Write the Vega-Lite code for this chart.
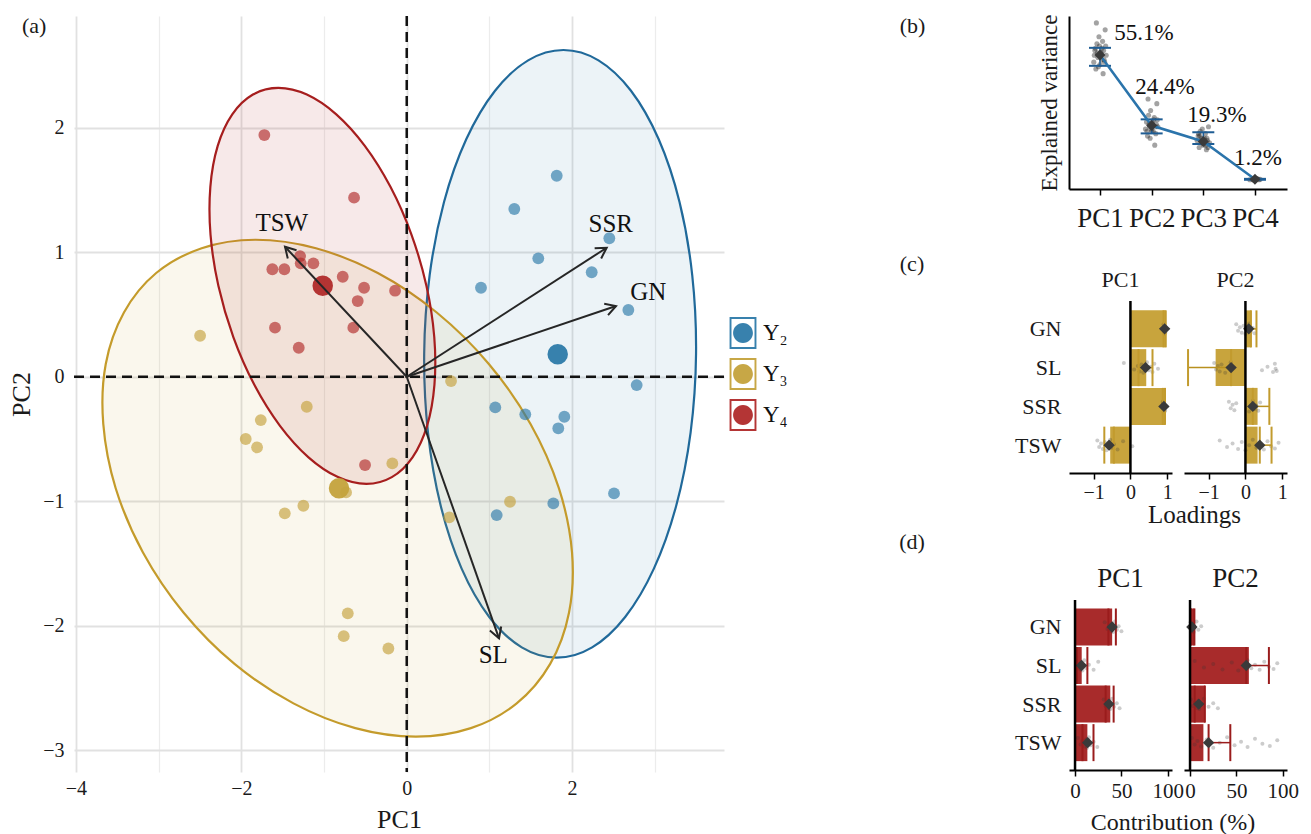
{
"$schema":"https://vega.github.io/schema/vega-lite/v6.json",
"padding":{"left":8,"top":14,"right":0,"bottom":0},
"background":"white",
"config":{"font":"Liberation Serif","view":{"stroke":null},
"axis":{"labelFont":"Liberation Serif","titleFont":"Liberation Serif","labelColor":"#1a1a1a","titleColor":"#1a1a1a","titleFontWeight":"normal","labelFlush":false,"labelOverlap":false,"grid":false,"titleLimit":400},
"legend":{"labelFont":"Liberation Serif","titleFont":"Liberation Serif"},
"title":{"font":"Liberation Serif","fontWeight":"normal","color":"#1a1a1a"},
"text":{"font":"Liberation Serif"}},
"datasets":{
"ell":[
{"g":"Y2","t":0,"x":1.895,"y":2.624},{"g":"Y2","t":1,"x":2.319,"y":2.541},{"g":"Y2","t":2,"x":2.712,"y":2.297},{"g":"Y2","t":3,"x":3.046,"y":1.909},{"g":"Y2","t":4,"x":3.299,"y":1.404},{"g":"Y2","t":5,"x":3.453,"y":0.815},{"g":"Y2","t":6,"x":3.499,"y":0.184},{"g":"Y2","t":7,"x":3.433,"y":-0.448},{"g":"Y2","t":8,"x":3.259,"y":-1.036},{"g":"Y2","t":9,"x":2.989,"y":-1.541},{"g":"Y2","t":10,"x":2.642,"y":-1.929},{"g":"Y2","t":11,"x":2.242,"y":-2.173},{"g":"Y2","t":12,"x":1.815,"y":-2.256},{"g":"Y2","t":13,"x":1.391,"y":-2.173},{"g":"Y2","t":14,"x":0.998,"y":-1.929},{"g":"Y2","t":15,"x":0.664,"y":-1.541},{"g":"Y2","t":16,"x":0.411,"y":-1.036},{"g":"Y2","t":17,"x":0.257,"y":-0.448},{"g":"Y2","t":18,"x":0.211,"y":0.184},{"g":"Y2","t":19,"x":0.277,"y":0.815},{"g":"Y2","t":20,"x":0.451,"y":1.404},{"g":"Y2","t":21,"x":0.721,"y":1.909},{"g":"Y2","t":22,"x":1.068,"y":2.297},{"g":"Y2","t":23,"x":1.468,"y":2.541},
{"g":"Y3","t":0,"x":-1.83,"y":1.1},{"g":"Y3","t":1,"x":-1.098,"y":1.032},{"g":"Y3","t":2,"x":-0.35,"y":0.833},{"g":"Y3","t":3,"x":0.363,"y":0.516},{"g":"Y3","t":4,"x":0.993,"y":0.103},{"g":"Y3","t":5,"x":1.497,"y":-0.379},{"g":"Y3","t":6,"x":1.84,"y":-0.895},{"g":"Y3","t":7,"x":1.999,"y":-1.411},{"g":"Y3","t":8,"x":1.963,"y":-1.893},{"g":"Y3","t":9,"x":1.735,"y":-2.306},{"g":"Y3","t":10,"x":1.33,"y":-2.623},{"g":"Y3","t":11,"x":0.776,"y":-2.822},{"g":"Y3","t":12,"x":0.11,"y":-2.89},{"g":"Y3","t":13,"x":-0.622,"y":-2.822},{"g":"Y3","t":14,"x":-1.37,"y":-2.623},{"g":"Y3","t":15,"x":-2.083,"y":-2.306},{"g":"Y3","t":16,"x":-2.7,"y":-1.893},{"g":"Y3","t":17,"x":-3.19,"y":-1.411},{"g":"Y3","t":18,"x":-3.52,"y":-0.895},{"g":"Y3","t":19,"x":-3.67,"y":-0.379},{"g":"Y3","t":20,"x":-3.64,"y":0.103},{"g":"Y3","t":21,"x":-3.42,"y":0.516},{"g":"Y3","t":22,"x":-3.03,"y":0.833},{"g":"Y3","t":23,"x":-2.48,"y":1.032},
{"g":"Y4","t":0,"x":-1.552,"y":2.32},{"g":"Y4","t":1,"x":-1.208,"y":2.266},{"g":"Y4","t":2,"x":-0.852,"y":2.107},{"g":"Y4","t":3,"x":-0.507,"y":1.854},{"g":"Y4","t":4,"x":-0.197,"y":1.525},{"g":"Y4","t":5,"x":0.057,"y":1.142},{"g":"Y4","t":6,"x":0.238,"y":0.73},{"g":"Y4","t":7,"x":0.333,"y":0.319},{"g":"Y4","t":8,"x":0.335,"y":-0.065},{"g":"Y4","t":9,"x":0.246,"y":-0.394},{"g":"Y4","t":10,"x":0.07,"y":-0.647},{"g":"Y4","t":11,"x":-0.18,"y":-0.806},{"g":"Y4","t":12,"x":-0.488,"y":-0.86},{"g":"Y4","t":13,"x":-0.832,"y":-0.806},{"g":"Y4","t":14,"x":-1.188,"y":-0.647},{"g":"Y4","t":15,"x":-1.533,"y":-0.394},{"g":"Y4","t":16,"x":-1.843,"y":-0.065},{"g":"Y4","t":17,"x":-2.097,"y":0.319},{"g":"Y4","t":18,"x":-2.278,"y":0.73},{"g":"Y4","t":19,"x":-2.373,"y":1.142},{"g":"Y4","t":20,"x":-2.375,"y":1.525},{"g":"Y4","t":21,"x":-2.286,"y":1.854},{"g":"Y4","t":22,"x":-2.11,"y":2.107},{"g":"Y4","t":23,"x":-1.86,"y":2.266}
],
"pts":[
{"g":"Y2","m":0,"x":1.814,"y":1.614},{"g":"Y2","m":0,"x":1.301,"y":1.347},{"g":"Y2","m":0,"x":2.45,"y":1.112},{"g":"Y2","m":0,"x":1.591,"y":0.951},{"g":"Y2","m":0,"x":2.237,"y":0.839},{"g":"Y2","m":0,"x":0.898,"y":0.715},{"g":"Y2","m":0,"x":2.68,"y":0.536},{"g":"Y2","m":0,"x":2.781,"y":-0.067},{"g":"Y2","m":0,"x":1.071,"y":-0.246},{"g":"Y2","m":0,"x":1.434,"y":-0.302},{"g":"Y2","m":0,"x":1.906,"y":-0.321},{"g":"Y2","m":0,"x":1.833,"y":-0.414},{"g":"Y2","m":0,"x":2.507,"y":-0.937},{"g":"Y2","m":0,"x":1.773,"y":-1.017},{"g":"Y2","m":0,"x":1.088,"y":-1.111},{"g":"Y2","m":1,"x":1.826,"y":0.18},
{"g":"Y3","m":0,"x":0.536,"y":-0.035},{"g":"Y3","m":0,"x":1.249,"y":-1.004},{"g":"Y3","m":0,"x":0.515,"y":-1.129},{"g":"Y3","m":0,"x":-2.499,"y":0.329},{"g":"Y3","m":0,"x":-1.209,"y":-0.241},{"g":"Y3","m":0,"x":-1.765,"y":-0.348},{"g":"Y3","m":0,"x":-1.947,"y":-0.5},{"g":"Y3","m":0,"x":-1.81,"y":-0.567},{"g":"Y3","m":0,"x":-0.174,"y":-0.696},{"g":"Y3","m":0,"x":-0.734,"y":-0.929},{"g":"Y3","m":0,"x":-1.25,"y":-1.036},{"g":"Y3","m":0,"x":-1.475,"y":-1.097},{"g":"Y3","m":0,"x":-0.713,"y":-1.9},{"g":"Y3","m":0,"x":-0.762,"y":-2.083},{"g":"Y3","m":0,"x":-0.222,"y":-2.182},{"g":"Y3","m":1,"x":-0.819,"y":-0.896},
{"g":"Y4","m":0,"x":-1.722,"y":1.941},{"g":"Y4","m":0,"x":-0.637,"y":1.438},{"g":"Y4","m":0,"x":-1.29,"y":0.969},{"g":"Y4","m":0,"x":-1.129,"y":0.911},{"g":"Y4","m":0,"x":-1.282,"y":0.911},{"g":"Y4","m":0,"x":-1.625,"y":0.863},{"g":"Y4","m":0,"x":-1.48,"y":0.863},{"g":"Y4","m":0,"x":-0.774,"y":0.803},{"g":"Y4","m":0,"x":-0.516,"y":0.715},{"g":"Y4","m":0,"x":-0.141,"y":0.691},{"g":"Y4","m":0,"x":-0.593,"y":0.608},{"g":"Y4","m":0,"x":-1.593,"y":0.394},{"g":"Y4","m":0,"x":-0.646,"y":0.394},{"g":"Y4","m":0,"x":-1.306,"y":0.233},{"g":"Y4","m":0,"x":-0.504,"y":-0.709},{"g":"Y4","m":1,"x":-1.016,"y":0.731}
],
"arr":[
{"v":"TSW","x":-1.472,"y":1.044,"lx":-1.511,"ly":1.237},
{"v":"SSR","x":2.418,"y":1.036,"lx":2.467,"ly":1.227},
{"v":"GN","x":2.531,"y":0.568,"lx":2.921,"ly":0.683},
{"v":"SL","x":1.116,"y":-2.101,"lx":1.047,"ly":-2.235}
],
"bsum":[
{"x":1,"m":55.1,"lo":50.4,"hi":58.2,"lab":"55.1%","lx":1.85,"ly":64.6},
{"x":2,"m":24.5,"lo":21.1,"hi":27.2,"lab":"24.4%","lx":2.258,"ly":41.2},
{"x":3,"m":17.6,"lo":16.5,"hi":21.6,"lab":"19.3%","lx":3.265,"ly":29.1},
{"x":4,"m":1.2,"lo":1.0,"hi":1.4,"lab":"1.2%","lx":4.059,"ly":10.4}
],
"bjit":[
{"x":0.88,"v":52},{"x":0.9,"v":57},{"x":0.92,"v":49},{"x":0.94,"v":60},{"x":0.96,"v":54},{"x":0.98,"v":63},{"x":1.0,"v":51},{"x":1.02,"v":56},{"x":1.04,"v":58},{"x":1.06,"v":47},{"x":1.08,"v":53},{"x":1.1,"v":66},{"x":1.12,"v":55},{"x":0.93,"v":69},{"x":1.05,"v":61},{"x":0.97,"v":50},{"x":1.01,"v":55},{"x":0.91,"v":58},{"x":1.09,"v":52},{"x":0.99,"v":59},{"x":0.95,"v":56},{"x":1.03,"v":53},{"x":0.89,"v":55},{"x":1.07,"v":57},{"x":1.11,"v":59},
{"x":1.88,"v":23},{"x":1.9,"v":26},{"x":1.92,"v":20},{"x":1.94,"v":29},{"x":1.96,"v":24},{"x":1.98,"v":31},{"x":2.0,"v":22},{"x":2.02,"v":25},{"x":2.04,"v":27},{"x":2.06,"v":16},{"x":2.08,"v":21},{"x":2.1,"v":34},{"x":2.12,"v":24},{"x":1.93,"v":36},{"x":2.05,"v":28},{"x":1.97,"v":19},{"x":2.01,"v":26},{"x":1.91,"v":22},{"x":2.09,"v":25},{"x":1.99,"v":23},{"x":1.95,"v":25},{"x":2.03,"v":22},{"x":2.07,"v":24},{"x":2.11,"v":27},
{"x":2.88,"v":18},{"x":2.9,"v":20},{"x":2.92,"v":15},{"x":2.94,"v":22},{"x":2.96,"v":17},{"x":2.98,"v":23},{"x":3.0,"v":16},{"x":3.02,"v":19},{"x":3.04,"v":21},{"x":3.06,"v":14},{"x":3.08,"v":18},{"x":3.1,"v":24},{"x":3.12,"v":17},{"x":2.93,"v":20},{"x":3.05,"v":16},{"x":2.97,"v":19},{"x":3.01,"v":18},{"x":2.91,"v":21},{"x":3.09,"v":15},{"x":2.99,"v":17},{"x":2.95,"v":18},{"x":3.03,"v":17},{"x":3.07,"v":19},
{"x":3.9,"v":1.0},{"x":3.95,"v":1.3},{"x":4.0,"v":1.1},{"x":4.05,"v":1.4},{"x":4.1,"v":1.2},{"x":3.97,"v":0.9},{"x":4.03,"v":1.5},{"x":4.08,"v":1.0}
],
"csum":[
{"p":1,"k":1,"load":0.96,"mean":0.93,"lo":0.9,"hi":0.96},
{"p":1,"k":2,"load":0.43,"mean":0.41,"lo":0.22,"hi":0.6},
{"p":1,"k":3,"load":0.94,"mean":0.91,"lo":0.88,"hi":0.94},
{"p":1,"k":4,"load":-0.55,"mean":-0.58,"lo":-0.71,"hi":-0.45},
{"p":2,"k":1,"load":0.16,"mean":0.09,"lo":0.15,"hi":0.3},
{"p":2,"k":2,"load":-0.81,"mean":-0.39,"lo":-1.56,"hi":-0.39},
{"p":2,"k":3,"load":0.33,"mean":0.2,"lo":0.2,"hi":0.65},
{"p":2,"k":4,"load":0.33,"mean":0.39,"lo":0.39,"hi":0.71}
],
"cjit":[
{"p":1,"k":0.88,"v":0.9},{"p":1,"k":1.05,"v":0.92},{"p":1,"k":0.96,"v":0.94},{"p":1,"k":1.1,"v":0.95},{"p":1,"k":0.92,"v":0.91},{"p":1,"k":1.13,"v":0.93},
{"p":1,"k":1.88,"v":-0.18},{"p":1,"k":2.05,"v":0.1},{"p":1,"k":1.96,"v":0.2},{"p":1,"k":2.1,"v":0.25},{"p":1,"k":1.92,"v":0.3},{"p":1,"k":2.13,"v":0.35},{"p":1,"k":2.0,"v":0.4},{"p":1,"k":1.86,"v":0.45},{"p":1,"k":2.07,"v":0.5},{"p":1,"k":1.98,"v":0.55},{"p":1,"k":2.11,"v":0.6},{"p":1,"k":1.9,"v":0.65},{"p":1,"k":2.03,"v":0.75},
{"p":1,"k":2.88,"v":0.88},{"p":1,"k":3.05,"v":0.9},{"p":1,"k":2.96,"v":0.92},{"p":1,"k":3.1,"v":0.94},{"p":1,"k":2.92,"v":0.89},{"p":1,"k":3.13,"v":0.93},
{"p":1,"k":3.88,"v":-0.9},{"p":1,"k":4.05,"v":-0.85},{"p":1,"k":3.96,"v":-0.8},{"p":1,"k":4.1,"v":-0.75},{"p":1,"k":3.92,"v":-0.7},{"p":1,"k":4.13,"v":-0.65},{"p":1,"k":4.0,"v":-0.6},{"p":1,"k":3.86,"v":-0.55},{"p":1,"k":4.07,"v":-0.5},{"p":1,"k":3.98,"v":-0.45},{"p":1,"k":4.11,"v":-0.35},{"p":1,"k":3.9,"v":-0.2},{"p":1,"k":4.03,"v":0.05},
{"p":2,"k":0.88,"v":-0.25},{"p":2,"k":1.05,"v":-0.2},{"p":2,"k":0.96,"v":-0.15},{"p":2,"k":1.1,"v":-0.1},{"p":2,"k":0.92,"v":-0.05},{"p":2,"k":1.13,"v":0},{"p":2,"k":1.0,"v":0.05},{"p":2,"k":0.86,"v":0.1},{"p":2,"k":1.07,"v":0.15},{"p":2,"k":0.98,"v":0.2},{"p":2,"k":1.11,"v":0.25},
{"p":2,"k":1.88,"v":-0.85},{"p":2,"k":2.05,"v":-0.8},{"p":2,"k":1.96,"v":-0.75},{"p":2,"k":2.1,"v":-0.7},{"p":2,"k":1.92,"v":-0.65},{"p":2,"k":2.13,"v":-0.55},{"p":2,"k":2.0,"v":-0.45},{"p":2,"k":1.86,"v":-0.4},{"p":2,"k":2.07,"v":0.45},{"p":2,"k":1.98,"v":0.6},{"p":2,"k":2.11,"v":0.75},{"p":2,"k":1.9,"v":0.8},{"p":2,"k":2.03,"v":0.82},{"p":2,"k":2.09,"v":0.85},
{"p":2,"k":2.88,"v":-0.45},{"p":2,"k":3.05,"v":-0.4},{"p":2,"k":2.96,"v":-0.35},{"p":2,"k":3.1,"v":-0.3},{"p":2,"k":2.92,"v":-0.25},{"p":2,"k":3.13,"v":0.1},{"p":2,"k":3.0,"v":0.15},{"p":2,"k":2.86,"v":0.2},{"p":2,"k":3.07,"v":0.25},{"p":2,"k":2.98,"v":0.3},{"p":2,"k":3.11,"v":0.35},{"p":2,"k":2.9,"v":0.4},
{"p":2,"k":3.88,"v":-0.7},{"p":2,"k":4.05,"v":-0.5},{"p":2,"k":3.96,"v":-0.35},{"p":2,"k":4.1,"v":-0.2},{"p":2,"k":3.92,"v":-0.1},{"p":2,"k":4.13,"v":0},{"p":2,"k":4.0,"v":0.1},{"p":2,"k":3.86,"v":0.2},{"p":2,"k":4.07,"v":0.3},{"p":2,"k":3.98,"v":0.4},{"p":2,"k":4.11,"v":0.5},{"p":2,"k":3.9,"v":0.6},{"p":2,"k":4.03,"v":0.7},{"p":2,"k":4.09,"v":0.8},{"p":2,"k":3.94,"v":0.9}
],
"dsum":[
{"p":1,"k":1,"load":40,"mean":40,"lo":36,"hi":44},
{"p":1,"k":2,"load":7.2,"mean":7,"lo":2,"hi":13.3},
{"p":1,"k":3,"load":38,"mean":36.5,"lo":33,"hi":41.6},
{"p":1,"k":4,"load":13.3,"mean":13.6,"lo":8,"hi":19.9},
{"p":2,"k":1,"load":4.7,"mean":2,"lo":1,"hi":4.7},
{"p":2,"k":2,"load":63.4,"mean":60.6,"lo":60.6,"hi":85},
{"p":2,"k":3,"load":16.2,"mean":9.4,"lo":5,"hi":16},
{"p":2,"k":4,"load":14.4,"mean":20,"lo":20,"hi":43.4}
],
"djit":[
{"p":1,"k":0.88,"v":32},{"p":1,"k":1.05,"v":35},{"p":1,"k":0.96,"v":37},{"p":1,"k":1.1,"v":39},{"p":1,"k":0.92,"v":40},{"p":1,"k":1.13,"v":41},{"p":1,"k":1.0,"v":42},{"p":1,"k":0.86,"v":43},{"p":1,"k":1.07,"v":45},{"p":1,"k":0.98,"v":47},{"p":1,"k":1.11,"v":50},
{"p":1,"k":1.88,"v":1},{"p":1,"k":2.05,"v":3},{"p":1,"k":1.96,"v":5},{"p":1,"k":2.1,"v":6},{"p":1,"k":1.92,"v":7},{"p":1,"k":2.13,"v":8},{"p":1,"k":2.0,"v":9},{"p":1,"k":1.86,"v":10},{"p":1,"k":2.07,"v":12},{"p":1,"k":1.98,"v":15},{"p":1,"k":2.11,"v":20},{"p":1,"k":1.9,"v":25},
{"p":1,"k":2.88,"v":31},{"p":1,"k":3.05,"v":33},{"p":1,"k":2.96,"v":35},{"p":1,"k":3.1,"v":36},{"p":1,"k":2.92,"v":37},{"p":1,"k":3.13,"v":38},{"p":1,"k":3.0,"v":39},{"p":1,"k":2.86,"v":40},{"p":1,"k":3.07,"v":42},{"p":1,"k":2.98,"v":45},{"p":1,"k":3.11,"v":48},
{"p":1,"k":3.88,"v":3},{"p":1,"k":4.05,"v":6},{"p":1,"k":3.96,"v":8},{"p":1,"k":4.1,"v":10},{"p":1,"k":3.92,"v":12},{"p":1,"k":4.13,"v":13},{"p":1,"k":4.0,"v":14},{"p":1,"k":3.86,"v":15},{"p":1,"k":4.07,"v":17},{"p":1,"k":3.98,"v":20},{"p":1,"k":4.11,"v":24},
{"p":2,"k":0.88,"v":0.5},{"p":2,"k":1.05,"v":1},{"p":2,"k":0.96,"v":1.5},{"p":2,"k":1.1,"v":2},{"p":2,"k":0.92,"v":3},{"p":2,"k":1.13,"v":4},{"p":2,"k":1.0,"v":5},{"p":2,"k":0.86,"v":7},{"p":2,"k":1.07,"v":9},{"p":2,"k":0.98,"v":12},
{"p":2,"k":1.88,"v":5},{"p":2,"k":2.05,"v":15},{"p":2,"k":1.96,"v":25},{"p":2,"k":2.1,"v":35},{"p":2,"k":1.92,"v":45},{"p":2,"k":2.13,"v":52},{"p":2,"k":2.0,"v":58},{"p":2,"k":1.86,"v":62},{"p":2,"k":2.07,"v":66},{"p":2,"k":1.98,"v":70},{"p":2,"k":2.11,"v":75},{"p":2,"k":1.9,"v":80},{"p":2,"k":2.03,"v":85},{"p":2,"k":2.09,"v":90},{"p":2,"k":1.94,"v":94},
{"p":2,"k":2.88,"v":1},{"p":2,"k":3.05,"v":3},{"p":2,"k":2.96,"v":5},{"p":2,"k":3.1,"v":7},{"p":2,"k":2.92,"v":9},{"p":2,"k":3.13,"v":10},{"p":2,"k":3.0,"v":12},{"p":2,"k":2.86,"v":15},{"p":2,"k":3.07,"v":20},{"p":2,"k":2.98,"v":25},{"p":2,"k":3.11,"v":30},
{"p":2,"k":3.88,"v":2},{"p":2,"k":4.05,"v":5},{"p":2,"k":3.96,"v":8},{"p":2,"k":4.1,"v":12},{"p":2,"k":3.92,"v":18},{"p":2,"k":4.13,"v":25},{"p":2,"k":4.0,"v":32},{"p":2,"k":3.86,"v":40},{"p":2,"k":4.07,"v":48},{"p":2,"k":3.98,"v":55},{"p":2,"k":4.11,"v":62},{"p":2,"k":3.9,"v":70},{"p":2,"k":4.03,"v":78},{"p":2,"k":4.09,"v":86},{"p":2,"k":3.94,"v":94}
]
},
"bounds":"flush",
"spacing":345,
"hconcat":[
{"width":650,"height":756,
"title":{"text":"(a)","anchor":"start","frame":"group","offset":-23,"dx":-52,"fontSize":22},
"layer":[
{"data":{"name":"ell"},"transform":[{"filter":"datum.g==='Y2'"}],
"mark":{"type":"line","interpolate":"cardinal-closed","stroke":"#20699a","strokeWidth":2.2,"fill":"#2d7aa9","fillOpacity":0.09},
"encoding":{
"x":{"field":"x","type":"quantitative","scale":{"domain":[-4.024,3.837],"nice":false,"zero":false},
"axis":{"title":"PC1","titleFontSize":26,"titlePadding":8,"labelFontSize":20,"labelPadding":6,"format":"d","values":[-4,-3,-2,-1,0,1,2,3],"labelExpr":"datum.value % 2 === 0 ? datum.label : ''","grid":true,"gridColor":{"condition":{"test":"datum.value % 2 === 0","value":"#e1e1e1"},"value":"#ececec"},"gridWidth":{"condition":{"test":"datum.value % 2 === 0","value":1.8},"value":1.2},"domain":false,"ticks":false}},
"y":{"field":"y","type":"quantitative","scale":{"domain":[-3.174,2.897],"nice":false,"zero":false},
"axis":{"title":"PC2","titleFontSize":26,"titlePadding":8,"labelFontSize":20,"labelPadding":10,"format":"d","values":[-3,-2.5,-2,-1.5,-1,-0.5,0,0.5,1,1.5,2,2.5],"labelExpr":"datum.value % 1 === 0 ? datum.label : ''","grid":true,"gridColor":{"condition":{"test":"datum.value % 1 === 0","value":"#e1e1e1"},"value":"#ececec"},"gridWidth":{"condition":{"test":"datum.value % 1 === 0","value":1.8},"value":1.2},"domain":false,"ticks":false}},
"order":{"field":"t","type":"quantitative"}}},
{"data":{"name":"ell"},"transform":[{"filter":"datum.g==='Y3'"}],
"mark":{"type":"line","interpolate":"cardinal-closed","stroke":"#c49b2b","strokeWidth":2.2,"fill":"#c4a23c","fillOpacity":0.09},
"encoding":{"x":{"field":"x","type":"quantitative"},"y":{"field":"y","type":"quantitative"},"order":{"field":"t","type":"quantitative"}}},
{"data":{"name":"ell"},"transform":[{"filter":"datum.g==='Y4'"}],
"mark":{"type":"line","interpolate":"cardinal-closed","stroke":"#a61e1e","strokeWidth":2.2,"fill":"#b02a2a","fillOpacity":0.1},
"encoding":{"x":{"field":"x","type":"quantitative"},"y":{"field":"y","type":"quantitative"},"order":{"field":"t","type":"quantitative"}}},
{"data":{"values":[{}]},"mark":{"type":"rule","strokeDash":[10,6],"strokeWidth":2.5,"color":"#111"},"encoding":{"x":{"datum":0}}},
{"data":{"values":[{}]},"mark":{"type":"rule","strokeDash":[10,6],"strokeWidth":2.5,"color":"#111"},"encoding":{"y":{"datum":0}}},
{"data":{"name":"pts"},"transform":[{"filter":"datum.m===0"}],"mark":{"type":"circle","size":140,"opacity":0.65},
"encoding":{"x":{"field":"x","type":"quantitative"},"y":{"field":"y","type":"quantitative"},
"color":{"field":"g","type":"nominal","scale":{"domain":["Y2","Y3","Y4"],"range":["#2d7aa9","#c4a23c","#b02a2a"]},
"legend":{"orient":"none","legendX":653,"legendY":301,"title":null,"padding":0,"symbolType":"M-0.84,-1L0.84,-1L0.84,1L-0.84,1ZM-0.72,-0.88L-0.72,0.88L0.72,0.88L0.72,-0.88ZM0,-0.62A0.62,0.62,0,1,1,0,0.62A0.62,0.62,0,1,1,0,-0.62Z","symbolSize":1024,"symbolStrokeWidth":0,"symbolOpacity":1,"rowPadding":9,"labelOffset":4,"labelFontSize":23,"labelColor":"#111","labelExpr":"replace(replace(replace(datum.label,'2','₂'),'3','₃'),'4','₄')"}}}},
{"data":{"name":"pts"},"transform":[{"filter":"datum.m===1"}],"mark":{"type":"circle","size":420,"opacity":0.95},
"encoding":{"x":{"field":"x","type":"quantitative"},"y":{"field":"y","type":"quantitative"},"color":{"field":"g","type":"nominal"}}},
{"data":{"name":"arr"},"mark":{"type":"rule","color":"#262626","strokeWidth":2},
"encoding":{"x":{"field":"x","type":"quantitative"},"y":{"field":"y","type":"quantitative"},"x2":{"datum":0},"y2":{"datum":0}}},
{"data":{"name":"arr"},"transform":[{"calculate":"atan2(datum.x*82.7, datum.y*124.5)*180/PI","as":"ang"}],
"mark":{"type":"point","shape":"M-0.5,0.87L0,0L0.5,0.87","size":576,"filled":false,"stroke":"#262626","strokeWidth":2,"opacity":1},
"encoding":{"x":{"field":"x","type":"quantitative"},"y":{"field":"y","type":"quantitative"},"angle":{"field":"ang","type":"quantitative","scale":null}}},
{"data":{"name":"arr"},"mark":{"type":"text","fontSize":25,"color":"#111"},
"encoding":{"x":{"field":"lx","type":"quantitative"},"y":{"field":"ly","type":"quantitative"},"text":{"field":"v"}}}
]},
{"bounds":"flush","spacing":112,"vconcat":[
{"width":218,"height":173,
"layer":[
{"data":{"name":"bjit"},"mark":{"type":"circle","size":26,"color":"#1a1a1a","opacity":0.4},
"encoding":{"x":{"field":"x","type":"quantitative","scale":{"domain":[0.4,4.62],"nice":false,"zero":false},
"axis":{"values":[1,2,3,4],"labelExpr":"'PC' + datum.value","labelFontSize":27,"labelPadding":10,"domainColor":"#000","domainWidth":2,"tickColor":"#000","tickWidth":1.5,"tickSize":6,"title":"(b)","titleFontSize":22,"titleX":-157,"titleY":-164,"titleAlign":"center","titleBaseline":"middle","titleAngle":0}},
"y":{"field":"v","type":"quantitative","scale":{"domain":[-3,72],"nice":false,"zero":false},
"axis":{"title":"Explained variance","titleFontSize":23,"titlePadding":8,"labels":false,"ticks":false,"domainColor":"#000","domainWidth":2}}}},
{"data":{"name":"bsum"},"mark":{"type":"rule","color":"#1f5d94","strokeWidth":1.5},
"encoding":{"x":{"field":"x","type":"quantitative"},"y":{"field":"lo","type":"quantitative"},"y2":{"field":"hi"}}},
{"data":{"name":"bsum"},"mark":{"type":"tick","orient":"horizontal","color":"#1f5d94","size":22,"thickness":2,"opacity":1},
"encoding":{"x":{"field":"x","type":"quantitative"},"y":{"field":"lo","type":"quantitative"}}},
{"data":{"name":"bsum"},"mark":{"type":"tick","orient":"horizontal","color":"#1f5d94","size":22,"thickness":2,"opacity":1},
"encoding":{"x":{"field":"x","type":"quantitative"},"y":{"field":"hi","type":"quantitative"}}},
{"data":{"name":"bsum"},"mark":{"type":"line","color":"#2b74ab","strokeWidth":2.5},
"encoding":{"x":{"field":"x","type":"quantitative"},"y":{"field":"m","type":"quantitative"}}},
{"data":{"name":"bsum"},"mark":{"type":"point","shape":"diamond","filled":true,"size":120,"color":"#3a3a3a","opacity":1},
"encoding":{"x":{"field":"x","type":"quantitative"},"y":{"field":"m","type":"quantitative"}}},
{"data":{"name":"bsum"},"mark":{"type":"text","fontSize":23,"color":"#111"},
"encoding":{"x":{"field":"lx","type":"quantitative"},"y":{"field":"ly","type":"quantitative"},"text":{"field":"lab"}}}
]},
{"bounds":"flush","spacing":299,"vconcat":[
{"bounds":"flush","spacing":12,"title":{"text":"(c)","anchor":"start","align":"center","frame":"group","dx":-157,"offset":-7,"fontSize":22},"hconcat":[
{"width":103,"height":172,"title":{"text":"PC1","fontSize":22,"offset":8},
"layer":[
{"data":{"name":"csum"},"transform":[{"filter":"datum.p===1"}],"mark":{"type":"bar","orient":"horizontal","size":37,"color":"#c8a43d","opacity":1},
"encoding":{"x":{"field":"load","type":"quantitative","scale":{"domain":[-1.67,1.13],"nice":false,"zero":false},
"axis":{"values":[-1,0,1],"format":"d","labelFontSize":20,"labelPadding":3,"domainColor":"#000","domainWidth":2,"tickColor":"#000","tickWidth":1.5,"tickSize":6,"title":"Loadings","titleFontSize":25,"titleX":125,"titleY":29,"titleAlign":"center","titleBaseline":"top"}},
"x2":{"datum":0},
"y":{"field":"k","type":"quantitative","scale":{"domain":[0.41,4.59],"reverse":true,"nice":false,"zero":false},
"axis":{"values":[1,2,3,4],"labelExpr":"['','GN','SL','SSR','TSW'][datum.value]","labelFontSize":22,"labelPadding":8,"domain":false,"ticks":false,"title":null}}}},
{"data":{"name":"cjit"},"transform":[{"filter":"datum.p===1"}],"mark":{"type":"circle","size":16,"color":"#333","opacity":0.25},
"encoding":{"x":{"field":"v","type":"quantitative"},"y":{"field":"k","type":"quantitative"}}},
{"data":{"name":"csum"},"transform":[{"filter":"datum.p===1"}],"mark":{"type":"rule","color":"#b8901f","strokeWidth":1.5},
"encoding":{"x":{"field":"lo","type":"quantitative"},"x2":{"field":"hi"},"y":{"field":"k","type":"quantitative"}}},
{"data":{"name":"csum"},"transform":[{"filter":"datum.p===1"}],"mark":{"type":"tick","orient":"vertical","size":37,"thickness":2,"color":"#c29b2e","opacity":1},
"encoding":{"x":{"field":"lo","type":"quantitative"},"y":{"field":"k","type":"quantitative"}}},
{"data":{"name":"csum"},"transform":[{"filter":"datum.p===1"}],"mark":{"type":"tick","orient":"vertical","size":37,"thickness":2,"color":"#c29b2e","opacity":1},
"encoding":{"x":{"field":"hi","type":"quantitative"},"y":{"field":"k","type":"quantitative"}}},
{"data":{"name":"csum"},"transform":[{"filter":"datum.p===1"}],"mark":{"type":"point","shape":"diamond","filled":true,"size":130,"color":"#3a3a3a","opacity":1},
"encoding":{"x":{"field":"mean","type":"quantitative"},"y":{"field":"k","type":"quantitative"}}},
{"data":{"values":[{}]},"mark":{"type":"rule","color":"#000","strokeWidth":2.5},"encoding":{"x":{"datum":0}}}
]},
{"width":103,"height":172,"title":{"text":"PC2","fontSize":22,"offset":8},
"layer":[
{"data":{"name":"csum"},"transform":[{"filter":"datum.p===2"}],"mark":{"type":"bar","orient":"horizontal","size":37,"color":"#c8a43d","opacity":1},
"encoding":{"x":{"field":"load","type":"quantitative","scale":{"domain":[-1.67,1.13],"nice":false,"zero":false},
"axis":{"values":[-1,0,1],"format":"d","labelFontSize":20,"labelPadding":3,"domainColor":"#000","domainWidth":2,"tickColor":"#000","tickWidth":1.5,"tickSize":6,"title":null}},
"x2":{"datum":0},
"y":{"field":"k","type":"quantitative","scale":{"domain":[0.41,4.59],"reverse":true,"nice":false,"zero":false},"axis":null}}},
{"data":{"name":"cjit"},"transform":[{"filter":"datum.p===2"}],"mark":{"type":"circle","size":16,"color":"#333","opacity":0.25},
"encoding":{"x":{"field":"v","type":"quantitative"},"y":{"field":"k","type":"quantitative"}}},
{"data":{"name":"csum"},"transform":[{"filter":"datum.p===2"}],"mark":{"type":"rule","color":"#b8901f","strokeWidth":1.5},
"encoding":{"x":{"field":"lo","type":"quantitative"},"x2":{"field":"hi"},"y":{"field":"k","type":"quantitative"}}},
{"data":{"name":"csum"},"transform":[{"filter":"datum.p===2"}],"mark":{"type":"tick","orient":"vertical","size":37,"thickness":2,"color":"#c29b2e","opacity":1},
"encoding":{"x":{"field":"lo","type":"quantitative"},"y":{"field":"k","type":"quantitative"}}},
{"data":{"name":"csum"},"transform":[{"filter":"datum.p===2"}],"mark":{"type":"tick","orient":"vertical","size":37,"thickness":2,"color":"#c29b2e","opacity":1},
"encoding":{"x":{"field":"hi","type":"quantitative"},"y":{"field":"k","type":"quantitative"}}},
{"data":{"name":"csum"},"transform":[{"filter":"datum.p===2"}],"mark":{"type":"point","shape":"diamond","filled":true,"size":130,"color":"#3a3a3a","opacity":1},
"encoding":{"x":{"field":"mean","type":"quantitative"},"y":{"field":"k","type":"quantitative"}}},
{"data":{"values":[{}]},"mark":{"type":"rule","color":"#000","strokeWidth":2.5},"encoding":{"x":{"datum":0}}}
]}
]},
{"bounds":"flush","spacing":12,"title":{"text":"(d)","anchor":"start","align":"center","frame":"group","dx":-157,"offset":11,"fontSize":22},"hconcat":[
{"width":103,"height":170,"title":{"text":"PC1","fontSize":27,"offset":6},
"layer":[
{"data":{"name":"dsum"},"transform":[{"filter":"datum.p===1"}],"mark":{"type":"bar","orient":"horizontal","size":37,"color":"#a82b2b","opacity":1},
"encoding":{"x":{"field":"load","type":"quantitative","scale":{"domain":[-6.5,104.5],"nice":false,"zero":false},
"axis":{"values":[0,50,100],"format":"d","labelFontSize":21,"labelPadding":4,"domainColor":"#000","domainWidth":2,"tickColor":"#000","tickWidth":1.5,"tickSize":6,"title":"Contribution (%)","titleFontSize":24,"titleX":103.5,"titleY":40,"titleAlign":"center","titleBaseline":"top"}},
"x2":{"datum":0},
"y":{"field":"k","type":"quantitative","scale":{"domain":[0.43,4.58],"reverse":true,"nice":false,"zero":false},
"axis":{"values":[1,2,3,4],"labelExpr":"['','GN','SL','SSR','TSW'][datum.value]","labelFontSize":22,"labelPadding":8,"domain":false,"ticks":false,"title":null}}}},
{"data":{"name":"djit"},"transform":[{"filter":"datum.p===1"}],"mark":{"type":"circle","size":16,"color":"#333","opacity":0.25},
"encoding":{"x":{"field":"v","type":"quantitative"},"y":{"field":"k","type":"quantitative"}}},
{"data":{"name":"dsum"},"transform":[{"filter":"datum.p===1"}],"mark":{"type":"rule","color":"#9a1c1c","strokeWidth":1.5},
"encoding":{"x":{"field":"lo","type":"quantitative"},"x2":{"field":"hi"},"y":{"field":"k","type":"quantitative"}}},
{"data":{"name":"dsum"},"transform":[{"filter":"datum.p===1"}],"mark":{"type":"tick","orient":"vertical","size":37,"thickness":2,"color":"#9a1c1c","opacity":1},
"encoding":{"x":{"field":"lo","type":"quantitative"},"y":{"field":"k","type":"quantitative"}}},
{"data":{"name":"dsum"},"transform":[{"filter":"datum.p===1"}],"mark":{"type":"tick","orient":"vertical","size":37,"thickness":2,"color":"#9a1c1c","opacity":1},
"encoding":{"x":{"field":"hi","type":"quantitative"},"y":{"field":"k","type":"quantitative"}}},
{"data":{"name":"dsum"},"transform":[{"filter":"datum.p===1"}],"mark":{"type":"point","shape":"diamond","filled":true,"size":130,"color":"#3a3a3a","opacity":1},
"encoding":{"x":{"field":"mean","type":"quantitative"},"y":{"field":"k","type":"quantitative"}}},
{"data":{"values":[{}]},"mark":{"type":"rule","color":"#000","strokeWidth":2.5},"encoding":{"x":{"datum":0}}}
]},
{"width":103,"height":170,"title":{"text":"PC2","fontSize":27,"offset":6},
"layer":[
{"data":{"name":"dsum"},"transform":[{"filter":"datum.p===2"}],"mark":{"type":"bar","orient":"horizontal","size":37,"color":"#a82b2b","opacity":1},
"encoding":{"x":{"field":"load","type":"quantitative","scale":{"domain":[-6.5,104.5],"nice":false,"zero":false},
"axis":{"values":[0,50,100],"format":"d","labelFontSize":21,"labelPadding":4,"domainColor":"#000","domainWidth":2,"tickColor":"#000","tickWidth":1.5,"tickSize":6,"title":null}},
"x2":{"datum":0},
"y":{"field":"k","type":"quantitative","scale":{"domain":[0.43,4.58],"reverse":true,"nice":false,"zero":false},"axis":null}}},
{"data":{"name":"djit"},"transform":[{"filter":"datum.p===2"}],"mark":{"type":"circle","size":16,"color":"#333","opacity":0.25},
"encoding":{"x":{"field":"v","type":"quantitative"},"y":{"field":"k","type":"quantitative"}}},
{"data":{"name":"dsum"},"transform":[{"filter":"datum.p===2"}],"mark":{"type":"rule","color":"#9a1c1c","strokeWidth":1.5},
"encoding":{"x":{"field":"lo","type":"quantitative"},"x2":{"field":"hi"},"y":{"field":"k","type":"quantitative"}}},
{"data":{"name":"dsum"},"transform":[{"filter":"datum.p===2"}],"mark":{"type":"tick","orient":"vertical","size":37,"thickness":2,"color":"#9a1c1c","opacity":1},
"encoding":{"x":{"field":"lo","type":"quantitative"},"y":{"field":"k","type":"quantitative"}}},
{"data":{"name":"dsum"},"transform":[{"filter":"datum.p===2"}],"mark":{"type":"tick","orient":"vertical","size":37,"thickness":2,"color":"#9a1c1c","opacity":1},
"encoding":{"x":{"field":"hi","type":"quantitative"},"y":{"field":"k","type":"quantitative"}}},
{"data":{"name":"dsum"},"transform":[{"filter":"datum.p===2"}],"mark":{"type":"point","shape":"diamond","filled":true,"size":130,"color":"#3a3a3a","opacity":1},
"encoding":{"x":{"field":"mean","type":"quantitative"},"y":{"field":"k","type":"quantitative"}}},
{"data":{"values":[{}]},"mark":{"type":"rule","color":"#000","strokeWidth":2.5},"encoding":{"x":{"datum":0}}}
]}
]}
]}
]}
]
}
